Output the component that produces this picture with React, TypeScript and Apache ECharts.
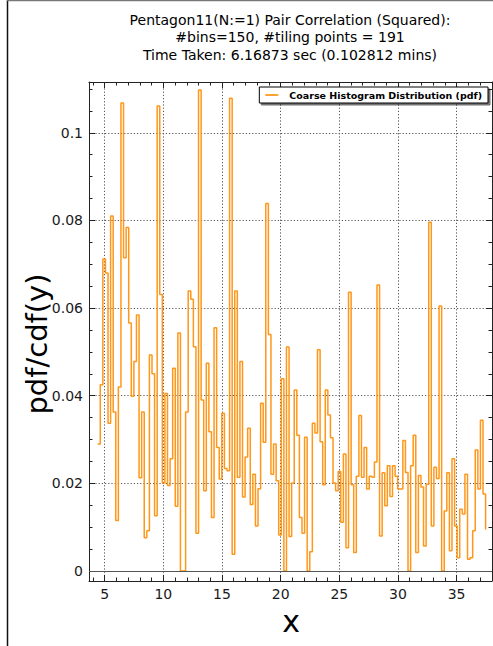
import React, { useEffect, useRef } from "react";
import * as echarts from "echarts";

// ---- data ----
const BIN_START = 4.4;
const BIN_WIDTH = 0.2205;
const pdfValues: number[] = [
  0.029, 0.0425, 0.0712, 0.068, 0.0337, 0.081, 0.0363, 0.0115, 0.042, 0.1068,
  0.0715, 0.0784, 0.0566, 0.0399, 0.0478, 0.0584, 0.0213, 0.0363, 0.0076, 0.0092,
  0.0493, 0.045, 0.0126, 0.1061, 0.0631, 0.0201, 0.0405, 0.0195, 0.0256, 0.0463,
  0.0148, 0.0543, 0, 0, 0.0363, 0.0639, 0.062, 0.0512, 0.0086, 0.1098,
  0.039, 0.0183, 0.0474, 0.0318, 0.0122, 0.0555, 0.0282, 0.021, 0.036, 0.0234,
  0.0229, 0.1079, 0.0038, 0.0639, 0.0214, 0.0478, 0.0169, 0.026, 0.0326, 0.0152,
  0.0221, 0.0103, 0.0188, 0.0383, 0.0294, 0.0839, 0.054, 0.0221, 0.029, 0.0206,
  0.0082, 0.0439, 0, 0.0511, 0.0079, 0.0201, 0.0413, 0.031, 0.0122, 0.0086,
  0.0305, 0, 0.0044, 0.0337, 0.0315, 0.0505, 0.0295, 0.0197, 0.0413, 0.0356,
  0.0304, 0.0201, 0.0183, 0.0227, 0.0111, 0.0267, 0.0053, 0.0636, 0.0197, 0.0042,
  0.0216, 0.0355, 0.0214, 0.0282, 0.0187, 0.0216, 0.0214, 0.0249, 0.0653, 0.008,
  0.0224, 0.0149, 0.024, 0.017, 0.024, 0.0216, 0.0187, 0.0187, 0.0298, 0.0225,
  0, 0.024, 0.031, 0.0042, 0.0218, 0.0192, 0.0057, 0.0198, 0.0796, 0.0103,
  0.0237, 0.0211, 0.0605, 0, 0.0137, 0.0224, 0.0046, 0.0256, 0.0103, 0.003,
  0.0141, 0.013, 0.0221, 0.0027, 0.003, 0.0092, 0.0276, 0.0187, 0.0344, 0.0176,
  0.0095,
];
const xTickLabels = [5, 10, 15, 20, 25, 30, 35];
const yTickLabels = [0, 0.02, 0.04, 0.06, 0.08, 0.1];
const X_MIN = 3.66;
const X_MAX = 38.02;
const Y_MIN = -0.00228;
const Y_MAX = 0.1116;

const TITLE =
  "Pentagon11(N:=1) Pair Correlation (Squared):\n#bins=150, #tiling points = 191\nTime Taken: 6.16873 sec (0.102812 mins)";
const SERIES_NAME = "Coarse Histogram Distribution (pdf)";
const X_NAME = "x";
const Y_NAME = "pdf/cdf(y)";

const FONT = "DejaVu Sans";
const LINE_COLOR = "#ff8c00";
const SPINE = "#222";

export default function App() {
  const ref = useRef<HTMLDivElement>(null);
  useEffect(() => {
    if (!ref.current) return;
    const chart = echarts.init(ref.current, undefined, { renderer: "svg" });
    const data = pdfValues.map((v, i) => [BIN_START + i * BIN_WIDTH, v]);

    const tickCommon = {
      axisLine: { show: true, onZero: false, lineStyle: { color: SPINE, width: 1 } },
      axisTick: { show: true, inside: true, length: 6, lineStyle: { color: SPINE, width: 1 } },
      minorTick: { show: true, length: 3.5, lineStyle: { color: SPINE, width: 1 } },
    };
    const gridLine = { show: true, lineStyle: { color: "#555", width: 1, type: [1.2, 2] as any } };
    const labelStyle = { fontSize: 14, color: "#1a1a1a", fontFamily: FONT };

    chart.setOption({
      animation: false,
      backgroundColor: "#fff",
      grid: { left: 89, right: 1, top: 82, bottom: 65, containLabel: false },
      legend: {
        right: 5,
        top: 87,
        orient: "horizontal",
        padding: [3, 6, 3, 6],
        itemWidth: 13,
        itemHeight: 1.6,
        icon: "rect",
        borderColor: "#000",
        borderWidth: 1,
        backgroundColor: "#fff",
        shadowColor: "rgba(0,0,0,0.55)",
        shadowBlur: 0.5,
        shadowOffsetX: 2,
        shadowOffsetY: 2,
        textStyle: { fontSize: 9.5, fontWeight: "bold", color: "#000", fontFamily: FONT, padding: [0, 0, 0, 6] },
        data: [{ name: SERIES_NAME, icon: "rect", itemStyle: { color: LINE_COLOR } }],
      },
      xAxis: [
        {
          type: "value",
          position: "bottom",
          min: X_MIN,
          max: X_MAX,
          ...tickCommon,
          minorTick: { ...tickCommon.minorTick, splitNumber: 5 },
          splitLine: gridLine,
          axisLabel: { ...labelStyle, margin: 6, customValues: xTickLabels },
        },
        {
          type: "value",
          position: "top",
          min: X_MIN,
          max: X_MAX,
          ...tickCommon,
          minorTick: { ...tickCommon.minorTick, splitNumber: 5 },
          splitLine: { show: false },
          axisLabel: { show: false },
        },
      ],
      yAxis: [
        {
          type: "value",
          position: "left",
          min: Y_MIN,
          max: Y_MAX,
          ...tickCommon,
          minorTick: { ...tickCommon.minorTick, splitNumber: 4 },
          splitLine: gridLine,
          axisLabel: { ...labelStyle, margin: 6, customValues: yTickLabels },
        },
        {
          type: "value",
          position: "right",
          min: Y_MIN,
          max: Y_MAX,
          ...tickCommon,
          minorTick: { ...tickCommon.minorTick, splitNumber: 4 },
          splitLine: { show: false },
          axisLabel: { show: false },
        },
      ],
      series: [
        {
          name: SERIES_NAME,
          type: "line",
          xAxisIndex: 0,
          yAxisIndex: 0,
          step: "end",
          symbol: "none",
          showSymbol: false,
          data,
          lineStyle: { color: LINE_COLOR, width: 1.5, opacity: 0.9 },
          itemStyle: { color: LINE_COLOR },
          markLine: {
            silent: true,
            symbol: ["none", "none"],
            label: { show: false },
            lineStyle: { type: "solid", color: "#555", width: 1 },
            data: [{ yAxis: 0 }],
          },
        },
      ],
      graphic: [
        {
          type: "line",
          shape: { x1: 7.5, y1: 0, x2: 7.5, y2: 646 },
          style: { stroke: "#111", lineWidth: 1.5 },
        },
        {
          type: "line",
          shape: { x1: 7, y1: 0.5, x2: 493, y2: 0.5 },
          style: { stroke: "#777", lineWidth: 1.5 },
        },
        {
          type: "text",
          x: 290,
          y: 11,
          style: {
            text: TITLE,
            fontSize: 14,
            lineHeight: 17.5,
            fontFamily: FONT,
            fill: "#000",
            align: "center",
            verticalAlign: "top",
          },
        },
        {
          type: "text",
          x: 37,
          y: 344,
          rotation: Math.PI / 2,
          style: {
            text: Y_NAME,
            fontSize: 29,
            fontFamily: FONT,
            fill: "#000",
            align: "center",
            verticalAlign: "middle",
          },
        },
        {
          type: "text",
          x: 291,
          y: 621,
          style: {
            text: X_NAME,
            fontSize: 30,
            fontFamily: FONT,
            fill: "#000",
            align: "center",
            verticalAlign: "middle",
          },
        },
      ],
    });
    return () => chart.dispose();
  }, []);
  return (
    <div
      ref={ref}
      style={{ position: "absolute", left: 0, top: 0, width: 493, height: 646, background: "#fff" }}
    />
  );
}
